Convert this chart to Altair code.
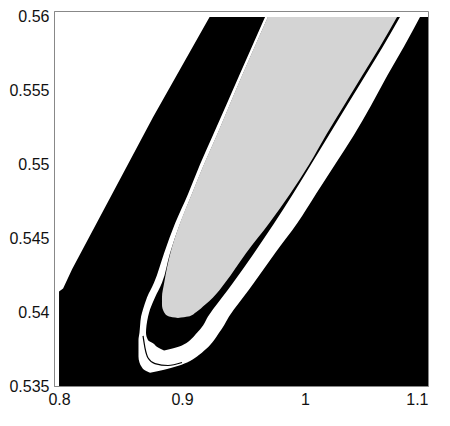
import altair as alt
import pandas as pd

# Black basin (left boundary with the white region), vertical slices
black_x = [0.8, 0.8033, 0.8106, 0.8764, 0.9224, 1.1]
black_top = [0.5414, 0.5416, 0.5429, 0.5532, 0.5600, 0.5600]
black_bottom = [0.535, 0.535, 0.535, 0.535, 0.535, 0.535]

# Outer white U-shaped band (horizontal slices)
a_y = [0.560, 0.558, 0.556, 0.554, 0.552, 0.550, 0.548, 0.546, 0.544, 0.542, 0.541,
       0.5402, 0.5397, 0.5391, 0.5386, 0.5381, 0.5375, 0.5370, 0.5366, 0.5363, 0.5361, 0.5359]
a_left = [0.9675, 0.9569, 0.9463, 0.9358, 0.9252, 0.9146, 0.9049, 0.8943, 0.8854, 0.8772, 0.8715,
          0.8683, 0.8667, 0.8659, 0.8654, 0.8646, 0.8646, 0.8646, 0.8654, 0.8671, 0.8691, 0.8740]
a_right = [1.0935, 1.0805, 1.0667, 1.0537, 1.0398, 1.0244, 1.0089, 0.9935, 0.9756, 0.9585, 0.9496,
           0.9423, 0.9382, 0.9341, 0.9301, 0.9260, 0.9195, 0.9122, 0.9041, 0.8943, 0.8854, 0.8740]

# Black U inside the white band
b_y = [0.560, 0.558, 0.556, 0.554, 0.552, 0.550, 0.548, 0.546, 0.544, 0.542, 0.541,
       0.5402, 0.5397, 0.5391, 0.5386, 0.5381, 0.5379, 0.5376, 0.5374]
b_left = [0.9699, 0.9593, 0.9488, 0.9386, 0.9285, 0.9179, 0.9081, 0.8984, 0.8902, 0.8837, 0.8780,
          0.8740, 0.8724, 0.8711, 0.8707, 0.8724, 0.8764, 0.8805, 0.8854]
b_right = [1.0772, 1.0634, 1.0488, 1.0341, 1.0195, 1.0049, 0.9902, 0.9748, 0.9585, 0.9415, 0.9325,
           0.9252, 0.9211, 0.9171, 0.9122, 0.9065, 0.9033, 0.8951, 0.8854]

# Grey inner basin
c_y = [0.560, 0.558, 0.556, 0.554, 0.552, 0.550, 0.548, 0.546, 0.544, 0.542, 0.541,
       0.5405, 0.5400, 0.5397, 0.5396]
c_left = [0.9697, 0.9591, 0.9486, 0.9384, 0.9283, 0.9177, 0.9079, 0.8982, 0.8905, 0.8855, 0.8837,
          0.8837, 0.8854, 0.8894, 0.8967]
c_right = [1.0748, 1.0610, 1.0463, 1.0317, 1.0171, 1.0033, 0.9878, 0.9707, 0.9520, 0.9350, 0.9252,
           0.9187, 0.9114, 0.9049, 0.8967]

# Thin black filament in the white band near the tip
t_x = [0.8683, 0.8699, 0.8724, 0.8780, 0.8886, 0.9000]
t_y = [0.53839, 0.53757, 0.5369, 0.53652, 0.53639, 0.53659]

x_ticks = [0.8, 0.9, 1.0, 1.1]
y_ticks = [0.535, 0.54, 0.545, 0.55, 0.555, 0.56]

xs = alt.Scale(domain=[0.7959, 1.1], nice=False, zero=False)
ys = alt.Scale(domain=[0.535, 0.5604], nice=False, zero=False)

FONT = "Liberation Sans"
x_axis = alt.Axis(values=x_ticks, format="~g", title=None, ticks=False, grid=False,
                  labelPadding=5, labelFontSize=16, labelFont=FONT, labelColor="#111",
                  domainColor="#888", zindex=1)
y_axis = alt.Axis(values=y_ticks, format="~g", title=None, ticks=False, grid=False,
                  labelPadding=5, labelFontSize=16, labelFont=FONT, labelColor="#111",
                  domainColor="#888", zindex=1)

df_black = pd.DataFrame({"x": black_x, "top": black_top, "bottom": black_bottom})
df_a = pd.DataFrame({"yy": a_y, "xl": a_left, "xr": a_right})
df_b = pd.DataFrame({"yy": b_y, "xl": b_left, "xr": b_right})
df_c = pd.DataFrame({"yy": c_y, "xl": c_left, "xr": c_right})
df_t = pd.DataFrame({"x": t_x, "yy": t_y})

black = alt.Chart(df_black).mark_area(color="black", clip=True, interpolate="linear").encode(
    x=alt.X("x:Q", scale=xs, axis=x_axis),
    y=alt.Y("top:Q", scale=ys, axis=y_axis),
    y2="bottom:Q",
)

def ushape(df, color):
    return alt.Chart(df).mark_area(color=color, orient="horizontal", clip=True,
                                   interpolate="monotone", opacity=1).encode(
        y=alt.Y("yy:Q", scale=ys),
        x=alt.X("xl:Q", scale=xs),
        x2="xr:Q",
    )

band = ushape(df_a, "white")
inner_black = ushape(df_b, "black")
grey = ushape(df_c, "#d4d4d4")

filament = alt.Chart(df_t).mark_line(color="black", strokeWidth=1.2, clip=True,
                                     interpolate="monotone").encode(
    x=alt.X("x:Q", scale=xs),
    y=alt.Y("yy:Q", scale=ys),
)

chart = alt.layer(black, band, inner_black, grey, filament).properties(
    width=374, height=375,
    autosize=alt.AutoSizeParams(type="none"),
    padding={"left": 46, "top": 3, "right": 14, "bottom": 32},
    background="white",
).configure_view(stroke="#888", strokeWidth=1)

chart.save("out.html", embed_options={"renderer": "svg", "actions": False})
